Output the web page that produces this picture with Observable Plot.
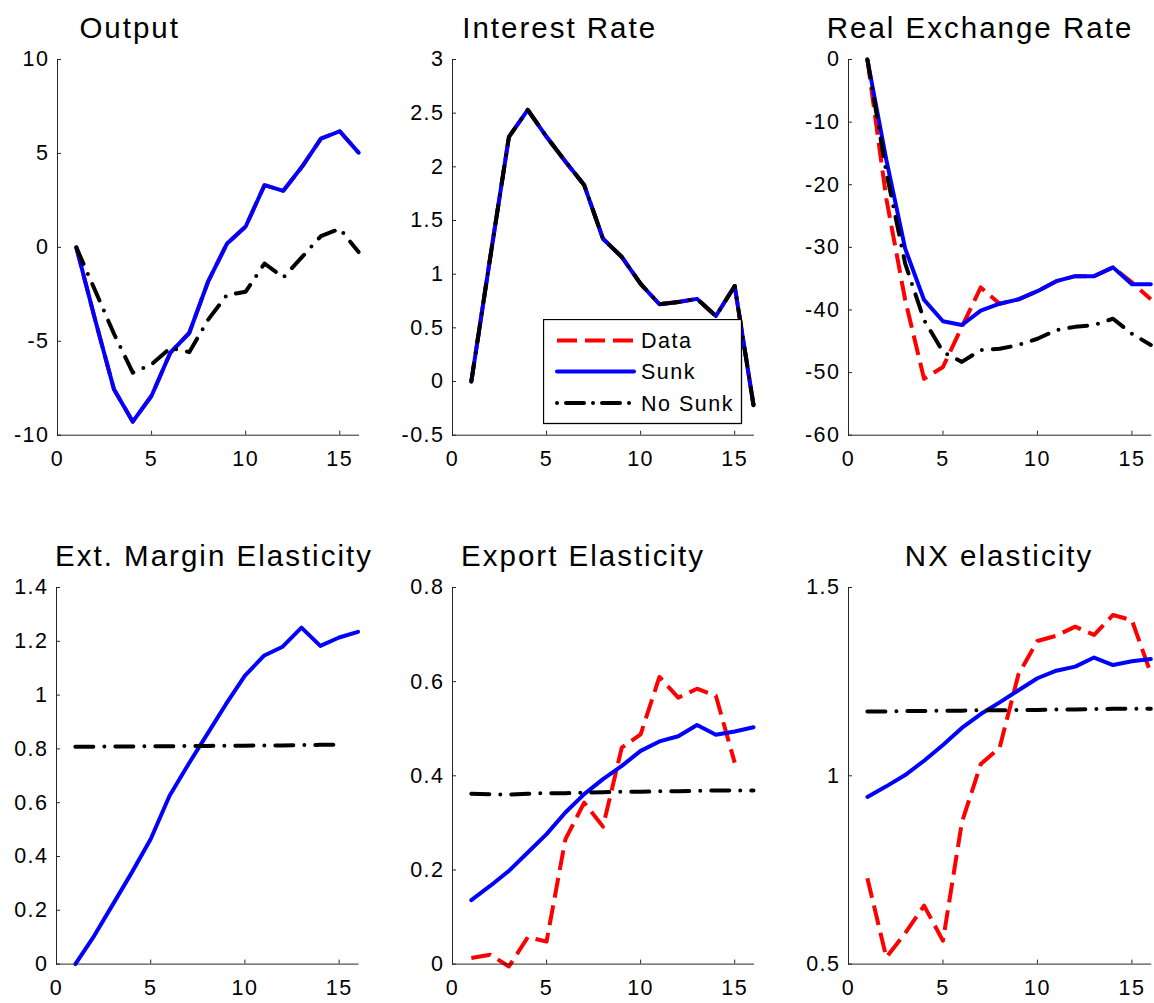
<!DOCTYPE html>
<html><head><meta charset="utf-8">
<script src="https://cdn.jsdelivr.net/npm/d3@7"></script>
<script src="https://cdn.jsdelivr.net/npm/@observablehq/plot@0.6"></script>
<style>
body{margin:0;background:#fff;}
#root{position:relative;width:1154px;height:1003px;overflow:hidden;font-family:"Liberation Sans",Arial,sans-serif;background:#fff;}
.title{position:absolute;font-size:29.5px;letter-spacing:2px;color:#000;white-space:nowrap;transform:translateX(-50%);line-height:29px;}
.panel{position:absolute;}
</style></head><body><div id="root"></div>
<script>
// ---------- data ----------
const periods = [1,2,3,4,5,6,7,8,9,10,11,12,13,14,15,16];
const xTicks = [0,5,10,15];

const outputSunk   = [0,-3.86,-7.55,-9.28,-7.9,-5.6,-4.56,-1.83,0.19,1.11,3.31,3.01,4.3,5.79,6.18,5.04];
const outputNoSunk = [0,-2.3,-4.6,-6.67,-6.23,-5.35,-5.58,-3.86,-2.54,-2.36,-0.86,-1.6,-0.51,0.6,0.99,-0.25];
const outputData   = [0,-3.86,-7.55,-9.28,-7.9,-5.6,-4.56,-1.83,0.19,1.11,3.31,3.01,4.3,5.79,6.18,5.04];
const outputTicks  = [-10,-5,0,5,10];

const rateData   = [0,1.15,2.28,2.53,2.28,2.05,1.83,1.33,1.16,0.91,0.72,0.74,0.77,0.61,0.89,-0.22];
const rateSunk   = [0,1.15,2.28,2.53,2.28,2.05,1.83,1.33,1.16,0.91,0.72,0.74,0.77,0.61,0.89,-0.22];
const rateNoSunk = [0,1.15,2.28,2.53,2.28,2.05,1.83,1.33,1.16,0.91,0.72,0.74,0.77,0.61,0.89,-0.22];
const rateTicks  = [-0.5,0,0.5,1,1.5,2,2.5,3];

const rerData   = [0,-22.2,-38.4,-51,-49.1,-42.7,-36.4,-39.0,-38.3,-37,-35.4,-34.6,-34.6,-33.2,-35.6,-38.3];
const rerSunk   = [0,-16,-30.2,-38.4,-41.8,-42.4,-40.1,-39.0,-38.3,-37,-35.4,-34.6,-34.6,-33.2,-35.9,-35.9];
const rerNoSunk = [0,-18,-32.6,-41.6,-46.7,-48.3,-46.4,-46.2,-45.6,-44.6,-43.2,-42.7,-42.4,-41.4,-43.8,-45.6];
const rerTicks  = [-60,-50,-40,-30,-20,-10,0];

const extSunk   = [0,0.105,0.223,0.341,0.465,0.626,0.743,0.855,0.967,1.072,1.146,1.18,1.251,1.183,1.214,1.235];
const extNoSunk = [0.808,0.808,0.809,0.809,0.81,0.81,0.811,0.811,0.812,0.812,0.813,0.813,0.814,0.815,0.815];
const extTicks  = [0,0.2,0.4,0.6,0.8,1,1.2,1.4];

const exportData   = [0.013,0.02,-0.005,0.057,0.048,0.265,0.343,0.292,0.46,0.488,0.61,0.566,0.585,0.57,0.428];
const exportSunk   = [0.136,0.166,0.198,0.237,0.276,0.322,0.361,0.393,0.421,0.453,0.473,0.484,0.508,0.487,0.494,0.503];
const exportNoSunk = [0.362,0.361,0.360,0.362,0.363,0.363,0.364,0.365,0.366,0.366,0.367,0.367,0.368,0.369,0.369,0.369];
const exportTicks  = [0,0.2,0.4,0.6,0.8];

const nxData   = [0.728,0.518,0.582,0.655,0.562,0.876,1.031,1.075,1.27,1.358,1.372,1.396,1.374,1.427,1.413,1.272];
const nxSunk   = [0.944,0.972,1.002,1.04,1.082,1.127,1.164,1.195,1.227,1.259,1.279,1.29,1.314,1.294,1.304,1.31];
const nxNoSunk = [1.171,1.171,1.172,1.172,1.173,1.173,1.174,1.174,1.175,1.175,1.176,1.176,1.177,1.178,1.178,1.178];
const nxTicks  = [0.5,1,1.5];

const seriesNames = ["Data","Sunk","No Sunk"];

// ---------- styles ----------
const FONT = '"Liberation Sans", Arial, sans-serif';
const AX = "#262626";
const lineStyle = {
  "Data":    {stroke:"#ff0000", strokeWidth:4, strokeDasharray:"20,8", strokeLinecap:"butt"},
  "Sunk":    {stroke:"#0000ff", strokeWidth:4, strokeLinecap:"round"},
  "No Sunk": {stroke:"#000000", strokeWidth:4, strokeDasharray:"18,11,0,11", strokeLinecap:"round"}
};

const panels = [
  {title:"Output", tx:129.7, ty:13, frame:[56.6,357.7,59.3,435], domain:[-10,10], ticks:outputTicks,
   series:{"Data":outputData,"Sunk":outputSunk,"No Sunk":outputNoSunk}},
  {title:"Interest Rate", tx:559.7, ty:13, frame:[452.3,753.3,59.3,435], domain:[-0.5,3], ticks:rateTicks,
   series:{"Data":rateData,"Sunk":rateSunk,"No Sunk":rateNoSunk}},
  {title:"Real Exchange Rate", tx:980, ty:13, frame:[847.7,1150,59.3,435], domain:[-60,0], ticks:rerTicks,
   series:{"Data":rerData,"Sunk":rerSunk,"No Sunk":rerNoSunk}},
  {title:"Ext. Margin Elasticity", tx:214, ty:541, frame:[56.2,357.7,586.7,963.3], domain:[0,1.4], ticks:extTicks,
   series:{"Sunk":extSunk,"No Sunk":extNoSunk}},
  {title:"Export Elasticity", tx:583, ty:541, frame:[452.3,753.3,586.7,963.3], domain:[0,0.8], ticks:exportTicks,
   series:{"Data":exportData,"Sunk":exportSunk,"No Sunk":exportNoSunk}},
  {title:"NX elasticity", tx:999, ty:541, frame:[847.7,1150,586.7,963.3], domain:[0.5,1.5], ticks:nxTicks,
   series:{"Data":nxData,"Sunk":nxSunk,"No Sunk":nxNoSunk}}
];

const root = document.getElementById("root");

for (const p of panels) {
  const [x0,x1,y0,y1] = p.frame;
  const ml = 70, mr = 20, mt = 10, mb = 45;
  const w = (x1-x0)+ml+mr, h = (y1-y0)+mt+mb;
  const marks = [];
  for (const name of seriesNames) {
    const vals = p.series[name];
    if (!vals) continue;
    const rows = vals.map((v,i)=>({x:periods[i], y:v, series:name}));
    marks.push(Plot.line(rows, {x:"x", y:"y", strokeLinejoin:"round", ...lineStyle[name]}));
  }
  const svg = Plot.plot({
    width:w, height:h, marginLeft:ml, marginRight:mr, marginTop:mt, marginBottom:mb,
    x:{domain:[0,16]},
    y:{domain:p.domain},
    style:{fontFamily:FONT, fontSize:"21px", color:AX, background:"transparent", overflow:"visible", letterSpacing:"1.5px"},
    marks:[
      // inward tick marks (labels empty)
      Plot.axisY({ticks:p.ticks, tickSize:4, dx:4, stroke:AX, anchor:"left", tickFormat:()=>"", label:null}),
      Plot.axisX({ticks:xTicks, tickSize:4, dy:-4, stroke:AX, anchor:"bottom", tickFormat:()=>"", label:null}),
      ...marks,
      Plot.frame({anchor:"left", stroke:AX}),
      Plot.frame({anchor:"bottom", stroke:AX}),
      // tick labels
      Plot.axisY({ticks:p.ticks, tickSize:0, tickPadding:8, tickFormat:d=>String(d), anchor:"left", fill:"#000", fontSize:21.5, label:null}),
      Plot.axisX({ticks:xTicks, tickSize:0, tickPadding:16, tickFormat:d=>String(d), anchor:"bottom", fill:"#000", fontSize:21.5, label:null})
    ]
  });
  svg.classList.add("panel");
  svg.style.left = (x0-ml)+"px";
  svg.style.top = (y0-mt)+"px";
  root.appendChild(svg);

  const t = document.createElement("div");
  t.className = "title";
  t.textContent = p.title;
  t.style.left = p.tx+"px";
  t.style.top = p.ty+"px";
  root.appendChild(t);
}

// ---------- legend (Interest Rate panel) ----------
const NS = "http://www.w3.org/2000/svg";
const leg = document.createElementNS(NS,"svg");
leg.setAttribute("width", 200); leg.setAttribute("height", 106);
leg.style.position = "absolute"; leg.style.left = "542.5px"; leg.style.top = "318.5px";
const rect = document.createElementNS(NS,"rect");
rect.setAttribute("x",0.5); rect.setAttribute("y",0.5); rect.setAttribute("width",198); rect.setAttribute("height",104);
rect.setAttribute("fill","#fff"); rect.setAttribute("stroke","#000"); rect.setAttribute("stroke-width",1.3);
leg.appendChild(rect);
const rowsY = [21.5, 52.5, 84];
seriesNames.forEach((name,i)=>{
  const st = lineStyle[name];
  const ln = document.createElementNS(NS,"line");
  ln.setAttribute("x1",14); ln.setAttribute("x2",91);
  ln.setAttribute("y1",rowsY[i]); ln.setAttribute("y2",rowsY[i]);
  ln.setAttribute("stroke",st.stroke); ln.setAttribute("stroke-width",st.strokeWidth);
  if (st.strokeDasharray) ln.setAttribute("stroke-dasharray", name==="Data" ? "20,8" : "0,9,18,9");
  ln.setAttribute("stroke-linecap", st.strokeLinecap);
  leg.appendChild(ln);
  const tx = document.createElementNS(NS,"text");
  tx.setAttribute("x",98); tx.setAttribute("y",rowsY[i]+7.5);
  tx.setAttribute("font-family",FONT); tx.setAttribute("font-size",21.5);
  tx.setAttribute("letter-spacing","1.5px"); tx.setAttribute("fill","#000");
  tx.textContent = name;
  leg.appendChild(tx);
});
root.appendChild(leg);
</script>
</body></html>
